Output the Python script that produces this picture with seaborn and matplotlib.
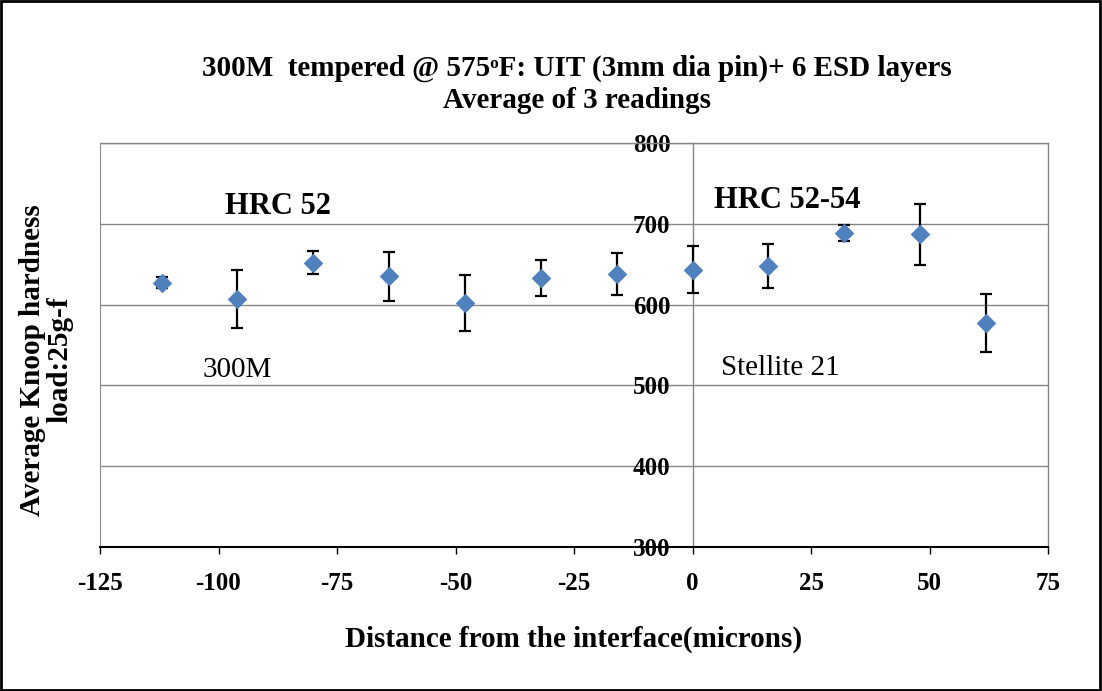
import matplotlib
matplotlib.use("Agg")
import matplotlib.pyplot as plt
import matplotlib.patches as patches
import numpy as np
import pandas as pd
import seaborn as sns

# --- data ---
distance = [-112, -96, -80, -64, -48, -32, -16, 0, 16, 32, 48, 62]
hardness = [627, 607, 652, 635, 602, 633, 638, 643, 648, 689, 687, 577]
error = [7, 36, 14, 30, 35, 22, 26, 29, 27, 10, 38, 36]

x_ticks = [-125, -100, -75, -50, -25, 0, 25, 50, 75]
y_ticks = [300, 400, 500, 600, 700, 800]

df = pd.DataFrame({"distance": distance, "hardness": hardness, "error": error})

sns.set_style("white")
plt.rcParams["font.family"] = ["Liberation Serif", "DejaVu Serif"]
plt.rcParams["axes.unicode_minus"] = False
plt.rcParams["text.color"] = "black"
plt.rcParams["axes.labelcolor"] = "black"
plt.rcParams["xtick.color"] = "black"
plt.rcParams["ytick.color"] = "black"

grey = "#868686"
blue = "#4F81BD"

fig = plt.figure(figsize=(11.02, 6.91), dpi=100)
ax = fig.add_axes([100 / 1102, 1 - 547 / 691, 948 / 1102, 404 / 691])

ax.errorbar(df["distance"], df["hardness"], yerr=df["error"], fmt="none",
            ecolor="black", elinewidth=1.6, capsize=4, capthick=1.6, zorder=3)
sns.scatterplot(data=df, x="distance", y="hardness", marker="D", s=100,
                color=blue, edgecolor=blue, linewidth=0, ax=ax, zorder=4)

ax.set_xlim(-125, 75)
ax.set_ylim(300, 800)
ax.set_xticks(x_ticks)
ax.set_yticks(y_ticks)
ax.yaxis.grid(True, color=grey, linewidth=1)
ax.set_axisbelow(True)

ax.spines["left"].set_position(("data", 0))
ax.spines["left"].set_color(grey)
ax.spines["right"].set_color(grey)
ax.spines["top"].set_color(grey)
ax.spines["bottom"].set_color("black")
ax.spines["bottom"].set_linewidth(1.5)
for s in ["left", "right", "top"]:
    ax.spines[s].set_linewidth(1)
ax.axvline(-125, color=grey, linewidth=1.5)

ax.tick_params(axis="x", direction="out", length=5, width=1, pad=13,
               labelsize=18, bottom=True)
ax.tick_params(axis="y", length=0, pad=16, labelsize=18)
for lab in ax.get_xticklabels() + ax.get_yticklabels():
    lab.set_fontweight("bold")

ax.set_xlabel("Distance from the interface(microns)", fontsize=21,
              fontweight="bold", labelpad=22)
ax.set_ylabel("Average Knoop hardness\nload:25g-f", fontsize=21,
              fontweight="bold", linespacing=1.0)
ax.yaxis.set_label_coords(-0.028, 0.463)

fig.text(577 / 1102, 1 - 68 / 691, "300M  tempered @ 575\u1d52F: UIT (3mm dia pin)+ 6 ESD layers",
         fontsize=21, fontweight="bold", ha="center", va="center")
fig.text(577 / 1102, 1 - 101 / 691, "Average of 3 readings",
         fontsize=21, fontweight="bold", ha="center", va="center")

ax.text(-87.5, 721, "HRC 52", fontsize=22, fontweight="bold", ha="center", va="center")
ax.text(20, 729, "HRC 52-54", fontsize=22, fontweight="bold", ha="center", va="center")
ax.text(-96, 519, "300M", fontsize=21, ha="center", va="center")
ax.text(18.5, 522, "Stellite 21", fontsize=21, ha="center", va="center")

fig.patches.append(patches.Rectangle((0.001, 0.002), 0.997, 0.996, transform=fig.transFigure,
                                     fill=False, edgecolor="black", linewidth=2))

fig.savefig("out.png", dpi=100)
